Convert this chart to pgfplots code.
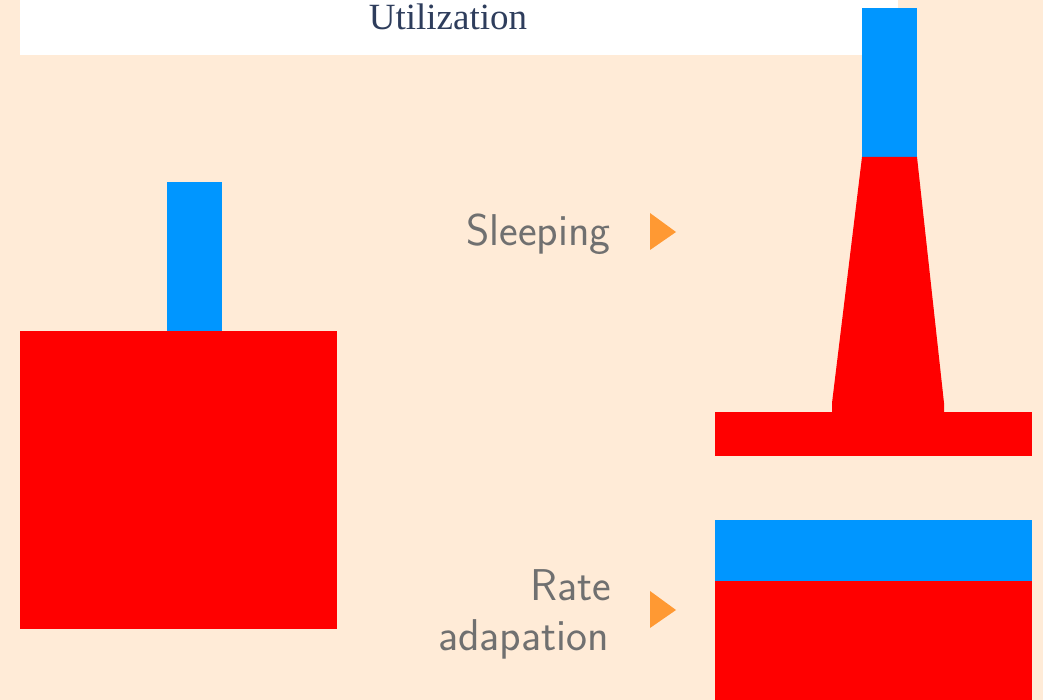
\documentclass[border=0pt]{standalone}
\usepackage{fontspec}
\usepackage{pgfplots}
\pgfplotsset{compat=1.18}
\newfontfamily\titlefont{Liberation Serif}
\definecolor{bgpeach}{HTML}{FFEBD7}
\definecolor{barblue}{HTML}{0096FF}
\definecolor{barred}{HTML}{FF0000}
\definecolor{arrowor}{HTML}{FF9933}
\definecolor{labgray}{HTML}{707070}
\definecolor{titleblue}{HTML}{2E3D5C}
\begin{document}
\begin{tikzpicture}
\begin{axis}[
    x=1pt, y=1pt,
    xmin=0, xmax=1043, ymin=0, ymax=700,
    y dir=reverse,
    hide axis,
    clip=false,
]
% background and title box
\addplot[fill=bgpeach, draw=none] coordinates {(0,0) (1043,0) (1043,700) (0,700)} -- cycle;
\addplot[fill=white, draw=none] coordinates {(20,0) (898,0) (898,55) (20,55)} -- cycle;
% left: before
\addplot[fill=barblue, draw=none] coordinates {(167,182) (222,182) (222,331) (167,331)} -- cycle;
\addplot[fill=barred, draw=none] coordinates {(20,331) (337,331) (337,629) (20,629)} -- cycle;
% right top: sleeping
\addplot[fill=barblue, draw=none] coordinates {(862,8) (917,8) (917,158) (862,158)} -- cycle;
\addplot[fill=barred, draw=none] coordinates {(862,157) (917,157) (944,403) (944,412) (832,412) (832,403)} -- cycle;
\addplot[fill=barred, draw=none] coordinates {(715,412) (1032,412) (1032,456) (715,456)} -- cycle;
% right bottom: rate adaptation
\addplot[fill=barblue, draw=none] coordinates {(715,520) (1032,520) (1032,581) (715,581)} -- cycle;
\addplot[fill=barred, draw=none] coordinates {(715,581) (1032,581) (1032,700) (715,700)} -- cycle;
% arrows
\addplot[fill=arrowor, draw=none] coordinates {(650,213) (676,232) (650,250)} -- cycle;
\addplot[fill=arrowor, draw=none] coordinates {(650,591) (676,610) (650,628)} -- cycle;
% labels
\node[anchor=base, text=titleblue, font=\titlefont\fontsize{37}{40}\selectfont, inner sep=0pt] at (axis cs:448,30) {Utilization};
\node[anchor=base east, text=labgray, font=\sffamily\fontsize{44.5}{50}\selectfont, inner sep=0pt] at (axis cs:611,246) {Sleeping};
\node[anchor=base east, text=labgray, font=\sffamily\fontsize{44.5}{50}\selectfont, inner sep=0pt] at (axis cs:611,600) {Rate};
\node[anchor=base east, text=labgray, font=\sffamily\fontsize{44.5}{50}\selectfont, inner sep=0pt] at (axis cs:609,650) {adapation};
\end{axis}
\end{tikzpicture}
\end{document}
